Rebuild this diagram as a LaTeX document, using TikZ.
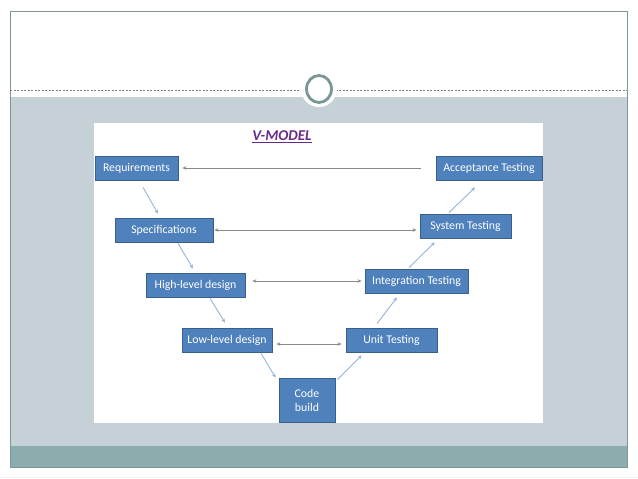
\documentclass[tikz,border=0pt]{standalone}
\usepackage{fontspec}
\setmainfont{Carlito}
\usetikzlibrary{arrows.meta}
\definecolor{boxfill}{HTML}{4F81BD}
\definecolor{boxline}{HTML}{3A5F8C}
\definecolor{bluearr}{HTML}{95B3D7}
\definecolor{grayarr}{HTML}{8A8A8A}
\definecolor{slide}{HTML}{C5D1D7}
\definecolor{band}{HTML}{8BADAD}
\definecolor{frame}{HTML}{7E9696}
\definecolor{ring}{HTML}{7A9797}
\definecolor{title}{HTML}{6A2A8A}
\tikzset{
  vbox/.style={draw=boxline, line width=0.8pt, fill=boxfill, text=white, font=\fontsize{11.8}{13}\selectfont, minimum height=24, inner sep=0pt, align=center, text height=9pt, text depth=2pt},
  uparr/.style={draw=bluearr, line width=0.9pt, -{Stealth[length=4pt,width=3.5pt]}},
  hzarr/.style={draw=grayarr, line width=0.9pt, {Stealth[length=4pt,width=3.5pt]}-{Stealth[length=4pt,width=3.5pt]}},
  hzone/.style={draw=grayarr, line width=0.9pt, -{Stealth[length=4pt,width=3.5pt]}}
}
\begin{document}
\begin{tikzpicture}[x=1pt,y=-1pt]
\useasboundingbox (0,0) rectangle (638,479);
\fill[white] (0,0) rectangle (638,479);
\draw[gray!12, line width=1pt] (0,477) -- (638,477);
% slide background
\fill[slide] (10,97) rectangle (627,446);
\fill[band] (10,446) rectangle (627,467);
\draw[frame, line width=0.8pt] (10,11) rectangle (627,467);
\draw[gray, line width=0.5pt, dash pattern=on 2pt off 1.5pt] (10,90) -- (627,90);
\fill[white] (319,89) circle (18);
\draw[ring, line width=2.8pt] (319,89) ellipse (12.5 and 13.5);
% white panel
\fill[white] (94,123) rectangle (543,423);
% title
\node (title) at (282,137) {\fontsize{15}{17}\selectfont\bfseries\itshape\color{title}\underline{V-MODEL}};
% boxes
\node[vbox, minimum width=83] (req) at (136.5,168) {Requirements};
\node[vbox, minimum width=106] (acc) at (489,168) {Acceptance Testing};
\node[vbox, minimum width=98] (spec) at (164,230) {Specifications};
\node[vbox, minimum width=91] (sys) at (465.5,226) {System Testing};
\node[vbox, minimum width=99] (high) at (195.5,285) {High-level design};
\node[vbox, minimum width=103] (integ) at (416.5,281) {Integration Testing};
\node[vbox, minimum width=90] (low) at (227,340) {Low-level design};
\node[vbox, minimum width=91] (unit) at (391.5,340) {Unit Testing};
\node[vbox, minimum width=56, minimum height=44, text height=, text depth=] (code) at (307,400) {Code\\[1pt]build};
% descending arrows
\draw[uparr] ([shift={(6.5,7)}]req.south) -- ([shift={(-6,-4)}]spec.north);
\draw[uparr] ([shift={(14,1)}]spec.south) -- ([shift={(-2.5,-4)}]high.north);
\draw[uparr] ([shift={(14.5,1)}]high.south) -- ([shift={(-2,-5)}]low.north);
\draw[uparr] ([shift={(34,1)}]low.south) -- ([shift={(-3,0)}]code.north west);
% ascending arrows
\draw[uparr] ([shift={(2,2)}]code.north east) -- ([shift={(16,3)}]unit.south west);
\draw[uparr] ([shift={(-14.5,-4)}]unit.north) -- ([shift={(-19.5,4)}]integ.south);
\draw[uparr] ([shift={(-7.5,-1)}]integ.north) -- ([shift={(15,4)}]sys.south west);
\draw[uparr] ([shift={(-16.5,-1)}]sys.north) -- ([shift={(-14,7)}]acc.south);
% horizontal arrows
\draw[hzone] ([shift={(-15,0)}]acc.west) -- ([shift={(4,0)}]req.east);
\draw[hzarr] ([shift={(1,0)}]spec.east) -- ([shift={(-3,4)}]sys.west);
\draw[hzarr] ([shift={(7,-4)}]high.east) -- ([shift={(-3,0)}]integ.west);
\draw[hzarr] ([shift={(4,4)}]low.east) -- ([shift={(-4,4)}]unit.west);
\end{tikzpicture}
\end{document}
